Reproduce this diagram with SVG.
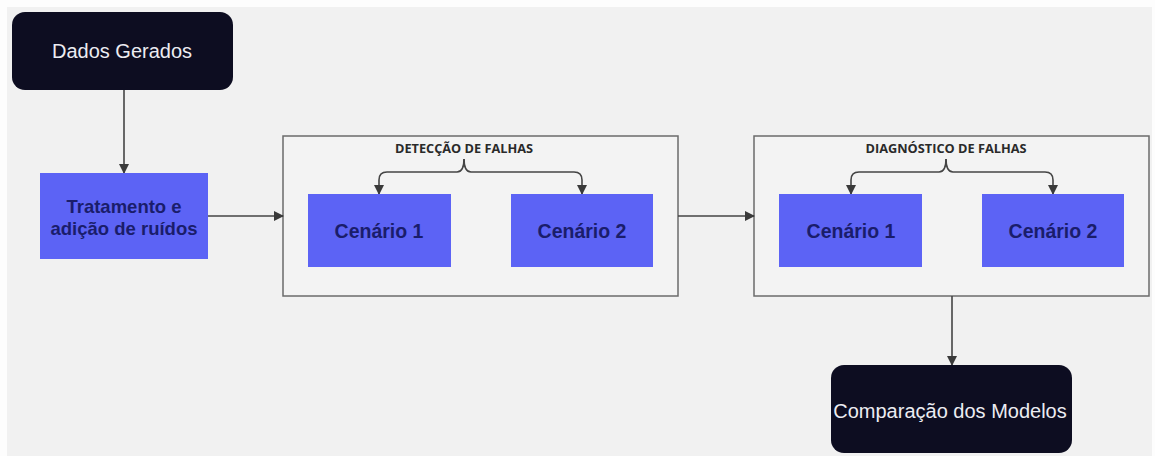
<svg xmlns="http://www.w3.org/2000/svg" width="1155" height="456" viewBox="0 0 1155 456">
  <defs>
    <marker id="arrow" viewBox="0 0 10 10" refX="9" refY="5" markerWidth="10" markerHeight="10" markerUnits="userSpaceOnUse" orient="auto">
      <path d="M0,0 L10,5 L0,10 z" fill="#3a3a3a"/>
    </marker>
    <style>
      .term { fill: #0d0d21; }
      .term-text { font-family: "Liberation Sans", Arial, sans-serif; font-size: 20px; fill: #ececf2; text-anchor: middle; }
      .step { fill: #5c63f5; }
      .step-text { font-family: "Liberation Sans", Arial, sans-serif; font-weight: bold; fill: #1a1d6b; text-anchor: middle; }
      .group { fill: #f3f3f3; stroke: #6b6b6b; stroke-width: 1.5; }
      .group-title { font-family: "Open Sans", "DejaVu Sans", sans-serif; font-weight: 700; font-size: 11.5px; fill: #2a2a2a; text-anchor: middle; }
      .edge { fill: none; stroke: #454545; stroke-width: 1.6; }
    </style>
  </defs>

  <rect x="0" y="0" width="1155" height="456" fill="#fdfdfd"/>
  <rect x="7" y="7" width="1145" height="449" fill="#f1f1f1"/>

  <!-- containers -->
  <g id="deteccao">
    <rect class="group" x="283" y="136" width="395" height="160"/>
    <text class="group-title" x="464" y="153" textLength="138" lengthAdjust="spacingAndGlyphs">DETECÇÃO DE FALHAS</text>
  </g>
  <g id="diagnostico">
    <rect class="group" x="754" y="136" width="395" height="160"/>
    <text class="group-title" x="946" y="153" textLength="161" lengthAdjust="spacingAndGlyphs">DIAGNÓSTICO DE FALHAS</text>
  </g>

  <!-- connectors -->
  <g id="connectors">
    <path class="edge" d="M124,90 V173" marker-end="url(#arrow)"/>
    <path class="edge" d="M208,216 H283" marker-end="url(#arrow)"/>
    <path class="edge" d="M678,216 H754" marker-end="url(#arrow)"/>
    <path class="edge" d="M952,296 V365" marker-end="url(#arrow)"/>
    <!-- brace splitting into the two scenarios -->
    <path class="edge" d="M464,159 Q464,172 457,172 H387 Q379,172 379,180 V194" marker-end="url(#arrow)"/>
    <path class="edge" d="M464,159 Q464,172 471,172 H574 Q582,172 582,180 V194" marker-end="url(#arrow)"/>
    <path class="edge" d="M946,159 Q946,172 939,172 H859 Q851,172 851,180 V194" marker-end="url(#arrow)"/>
    <path class="edge" d="M946,159 Q946,172 953,172 H1045 Q1053,172 1053,180 V194" marker-end="url(#arrow)"/>
  </g>

  <g id="dados-gerados">
    <rect class="term" x="12" y="12" width="221" height="78" rx="13"/>
    <text class="term-text" x="122" y="58">Dados Gerados</text>
  </g>

  <g id="tratamento">
    <rect class="step" x="40" y="173" width="168" height="86"/>
    <text class="step-text" x="124" y="213" font-size="18.5">Tratamento e</text>
    <text class="step-text" x="124" y="235" font-size="18.5">adição de ruídos</text>
  </g>

  <g id="det-cenario-1">
    <rect class="step" x="308" y="194" width="143" height="73"/>
    <text class="step-text" x="379" y="238" font-size="19.5">Cenário 1</text>
  </g>
  <g id="det-cenario-2">
    <rect class="step" x="511" y="194" width="142" height="73"/>
    <text class="step-text" x="582" y="238" font-size="19.5">Cenário 2</text>
  </g>

  <g id="diag-cenario-1">
    <rect class="step" x="779" y="194" width="143" height="73"/>
    <text class="step-text" x="851" y="238" font-size="19.5">Cenário 1</text>
  </g>
  <g id="diag-cenario-2">
    <rect class="step" x="982" y="194" width="142" height="73"/>
    <text class="step-text" x="1053" y="238" font-size="19.5">Cenário 2</text>
  </g>

  <g id="comparacao">
    <rect class="term" x="831" y="365" width="241" height="88" rx="13"/>
    <text class="term-text" x="950" y="418">Comparação dos Modelos</text>
  </g>
</svg>
